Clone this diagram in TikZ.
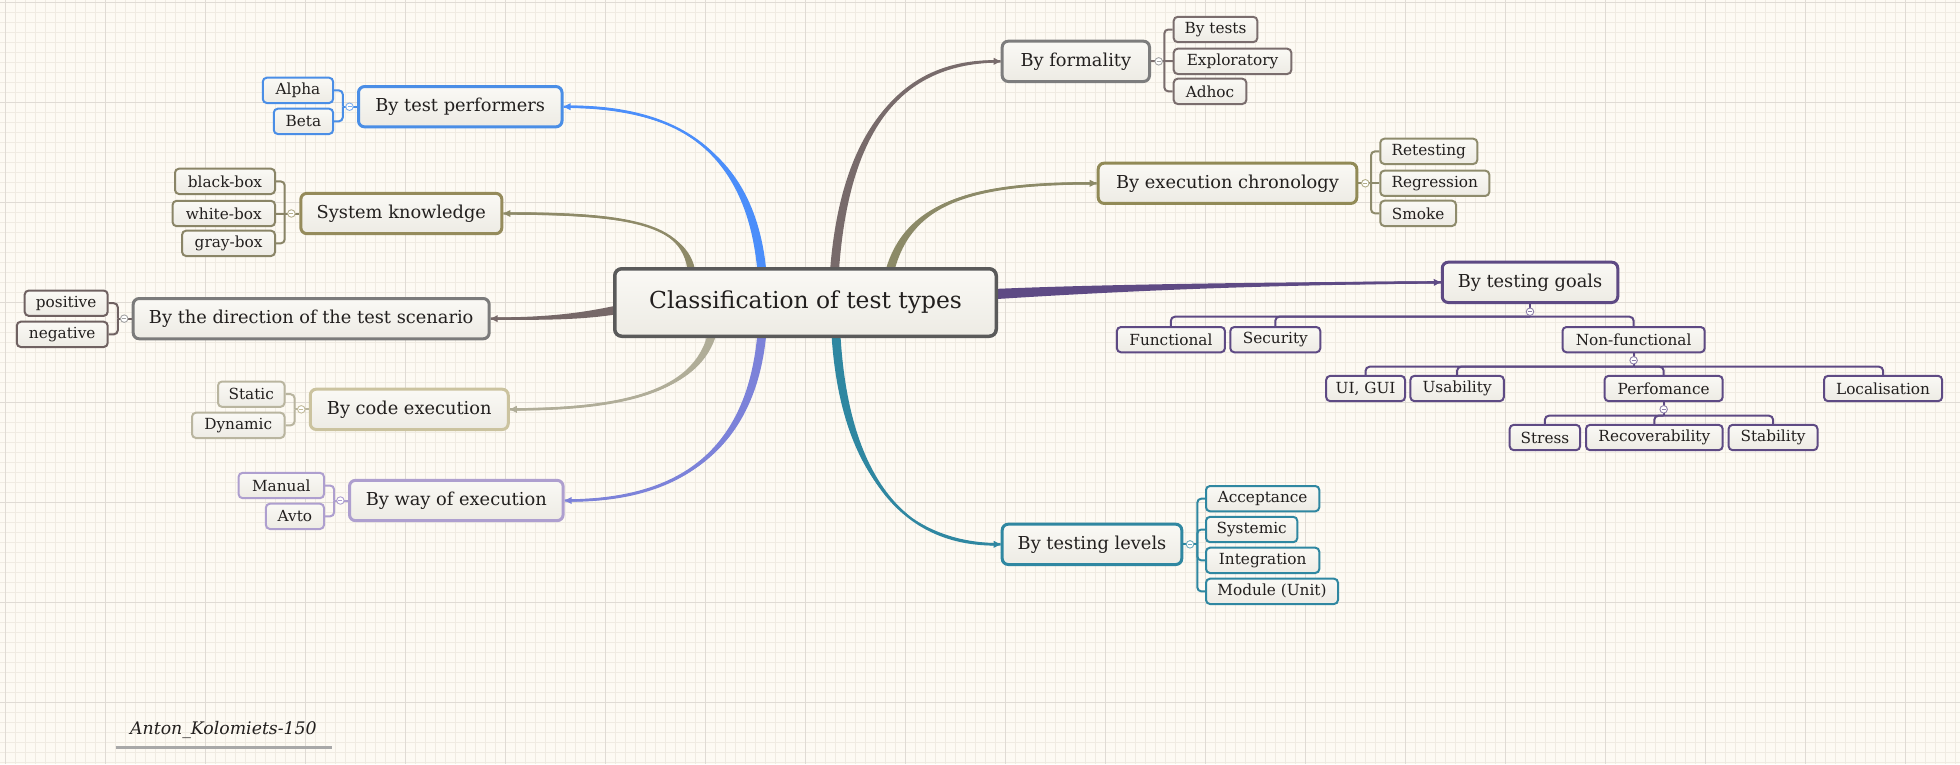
\documentclass[tikz,border=0pt]{standalone}
\usepackage{fontspec}
\setmainfont{DejaVu Serif}
\usetikzlibrary{calc,arrows.meta}
\pgfdeclarelayer{bgl}
\pgfdeclarelayer{connl}
\pgfsetlayers{bgl,connl,main}
\definecolor{bg}{HTML}{FDFAF3}
\definecolor{gmin}{HTML}{F0EBE2}
\definecolor{gmaj}{HTML}{E0DBD4}
\definecolor{boxtop}{HTML}{FAF9F5}
\definecolor{boxbot}{HTML}{EDEBE4}
\definecolor{txt}{HTML}{221F1E}
\definecolor{cC}{HTML}{5A5A5A}
\definecolor{cBlue}{HTML}{4A8EE6}
\definecolor{kBlue}{HTML}{4B8EFA}
\definecolor{cSK}{HTML}{958B5B}
\definecolor{cSKl}{HTML}{8A8567}
\definecolor{kSK}{HTML}{8E8A68}
\definecolor{cBD}{HTML}{7B7B7B}
\definecolor{cBDl}{HTML}{6F6161}
\definecolor{kBD}{HTML}{766868}
\definecolor{cCE}{HTML}{CBC39F}
\definecolor{cCEl}{HTML}{B9B59F}
\definecolor{kCE}{HTML}{B0AD98}
\definecolor{cWE}{HTML}{AE9FCF}
\definecolor{kWE}{HTML}{7C82D9}
\definecolor{cBF}{HTML}{7D7D7D}
\definecolor{cBFl}{HTML}{7A6D6D}
\definecolor{kBF}{HTML}{786B6B}
\definecolor{cEC}{HTML}{918A56}
\definecolor{cECl}{HTML}{8E8B6C}
\definecolor{kEC}{HTML}{8C8A67}
\definecolor{cTG}{HTML}{5E4A84}
\definecolor{cTL}{HTML}{2F87A1}
\definecolor{sigline}{HTML}{A8A8A8}
\newcommand\taper[7]{\fill[#7] ($#1+#5$) .. controls ($#2+#5$) and ($#3+#6$) .. ($#4+#6$) -- ($#4-#6$) .. controls ($#3-#6$) and ($#2-#5$) .. ($#1-#5$) -- cycle;}
\begin{document}
\begin{tikzpicture}[x=1pt,y=-1pt,
  box/.style={draw, top color=boxtop, bottom color=boxbot, inner sep=0pt, text=txt, align=center},
  central/.style={box, line width=3.5pt, rounded corners=7pt, draw=cC, minimum width=381.5pt, minimum height=67.5pt, font=\fontsize{23.4}{27}\selectfont},
  mainbox/.style={box, line width=3pt, rounded corners=6pt, minimum height=40.3pt, font=\fontsize{17.8}{21}\selectfont},
  leaf/.style={box, line width=2pt, rounded corners=4pt, minimum height=25.3pt, font=\fontsize{15.3}{18}\selectfont},
  br/.style={line width=2pt, rounded corners=4pt},
  conn/.style={line width=2.4pt, -{Triangle[length=7pt,width=6.5pt]}},
  circ/.style={circle, draw=#1, fill=white, line width=0.9pt, minimum size=7.5pt, inner sep=0pt,
    path picture={\draw[#1, line width=0.7pt] ([xshift=-2pt]path picture bounding box.center) -- ([xshift=2pt]path picture bounding box.center);}},
  minorg/.style={gmin, line width=1pt},
  majorg/.style={gmaj, line width=1pt}
]
\useasboundingbox (0,0) rectangle (1960,764);
\begin{pgfonlayer}{bgl}
\fill[bg] (0,0) rectangle (1960,764);
\foreach \i in {0,...,195} {\draw[minorg] ({5.3+10*\i},0) -- ({5.3+10*\i},764);}
\foreach \j in {0,...,76} {\draw[minorg] (0,{2.3+10*\j}) -- (1960,{2.3+10*\j});}
\foreach \i in {0,...,19} {\draw[majorg] ({5.3+100*\i},0) -- ({5.3+100*\i},764);}
\foreach \j in {0,...,7} {\draw[majorg] (0,{2.3+100*\j}) -- (1960,{2.3+100*\j});}
\end{pgfonlayer}

% central
\node[central] (C) at (805.5,302.5) {Classification of test types};

% main topics
\node[mainbox,draw=cBlue,minimum width=203.5pt] (btp) at (460.25,106.7) {By test performers};
\node[mainbox,draw=cSK,minimum width=201pt] (sk) at (401.35,213.5) {System knowledge};
\node[mainbox,draw=cBD,minimum width=356pt] (bd) at (311.2,318.65) {By the direction of the test scenario};
\node[mainbox,draw=cCE,minimum width=198pt] (bce) at (409.25,409.35) {By code execution};
\node[mainbox,draw=cWE,minimum width=213.6pt] (bwe) at (456.3,500.5) {By way of execution};
\node[mainbox,draw=cBF,minimum width=147.3pt] (bf) at (1075.85,61.35) {By formality};
\node[mainbox,draw=cEC,minimum width=258.6pt] (bec) at (1227.5,183.3) {By execution chronology};
\node[mainbox,draw=cTG,minimum width=175.5pt] (btg) at (1530,282.35) {By testing goals};
\node[mainbox,draw=cTL,minimum width=179.6pt] (btl) at (1092,544.35) {By testing levels};

% leaves
\node[leaf,draw=cBlue,minimum width=70.3pt] (alpha) at (297.95,90.35) {Alpha};
\node[leaf,draw=cBlue,minimum width=59.3pt] (beta) at (303.45,121.35) {Beta};
\node[leaf,draw=cSKl,minimum width=100pt] (blackb) at (225,181.35) {black-box};
\node[leaf,draw=cSKl,minimum width=102.4pt] (whiteb) at (223.8,213.5) {white-box};
\node[leaf,draw=cSKl,minimum width=92.9pt] (grayb) at (228.55,243.35) {gray-box};
\node[leaf,draw=cBDl,minimum width=83pt] (pos) at (66.2,303.2) {positive};
\node[leaf,draw=cBDl,minimum width=90.9pt] (neg) at (62.25,334.35) {negative};
\node[leaf,draw=cCEl,minimum width=66.5pt] (stat) at (251.25,394.2) {Static};
\node[leaf,draw=cCEl,minimum width=92.5pt] (dyn) at (238.25,425.35) {Dynamic};
\node[leaf,draw=cWE,minimum width=85.4pt] (man) at (281.3,485.5) {Manual};
\node[leaf,draw=cWE,minimum width=58.1pt] (avto) at (294.95,516.35) {Avto};
\node[leaf,draw=cBFl,minimum width=83.6pt] (bytests) at (1215.5,29.5) {By tests};
\node[leaf,draw=cBFl,minimum width=117.6pt] (explo) at (1232.5,61.35) {Exploratory};
\node[leaf,draw=cBFl,minimum width=72.6pt] (adhoc) at (1210,91.35) {Adhoc};
\node[leaf,draw=cECl,minimum width=97pt] (retest) at (1428.8,151.35) {Retesting};
\node[leaf,draw=cECl,minimum width=109pt] (regr) at (1434.8,183.3) {Regression};
\node[leaf,draw=cECl,minimum width=75.7pt] (smoke) at (1418.15,213.35) {Smoke};
\node[leaf,draw=cTG,minimum width=108pt] (func) at (1170.9,339.65) {Functional};
\node[leaf,draw=cTG,minimum width=90pt] (secur) at (1275.3,339.65) {Security};
\node[leaf,draw=cTG,minimum width=142.2pt] (nonf) at (1633.6,339.65) {Non-functional};
\node[leaf,draw=cTG,minimum width=78.8pt] (uigui) at (1365.6,388.5) {UI, GUI};
\node[leaf,draw=cTG,minimum width=93.4pt] (usab) at (1457.1,388.5) {Usability};
\node[leaf,draw=cTG,minimum width=118.1pt] (perf) at (1663.65,388.5) {Perfomance};
\node[leaf,draw=cTG,minimum width=118.1pt] (local) at (1883.05,388.5) {Localisation};
\node[leaf,draw=cTG,minimum width=70.4pt] (stress) at (1544.9,437.5) {Stress};
\node[leaf,draw=cTG,minimum width=136.7pt] (recov) at (1654.35,437.5) {Recoverability};
\node[leaf,draw=cTG,minimum width=88.9pt] (stab) at (1773.05,437.5) {Stability};
\node[leaf,draw=cTL,minimum width=113.3pt] (accept) at (1262.65,498.65) {Acceptance};
\node[leaf,draw=cTL,minimum width=91.3pt] (syst) at (1251.65,529.5) {Systemic};
\node[leaf,draw=cTL,minimum width=113.3pt] (integr) at (1262.65,560.35) {Integration};
\node[leaf,draw=cTL,minimum width=132pt] (module) at (1272,591.35) {Module (Unit)};

% junctions
\coordinate (btpj) at (342.8,106.7);
\coordinate (skj) at (284.7,213.5);
\coordinate (bdj) at (117.8,318.65);
\coordinate (bcej) at (294.6,409.35);
\coordinate (bwej) at (334.1,500.5);
\coordinate (bfj) at (1164.3,61.35);
\coordinate (becj) at (1371,183.3);
\coordinate (btlj) at (1197.3,544.35);
\coordinate (btgj) at (1530,316.7);
\coordinate (nfj) at (1633.6,366.7);
\coordinate (pfj) at (1663.65,415.7);

% connector start points inside the central node
\coordinate (s1) at (763,290);
\coordinate (s2) at (690,300);
\coordinate (s3) at (660,300);
\coordinate (s4) at (715,310);
\coordinate (s5) at (763,315);
\coordinate (s6) at (833,300);
\coordinate (s7) at (885,300);
\coordinate (s8) at (930,298);
\coordinate (s9) at (835,310);

\begin{pgfonlayer}{connl}
% tapered main connectors
\taper{(s1)}{(758,143)}{(666,106.7)}{(btp.east)}{(4.5,0)}{(0,1.2)}{kBlue}
\draw[conn,kBlue] (s1) .. controls (758,143) and (666,106.7) .. (btp.east);
\taper{(s2)}{(705,225)}{(640,213.5)}{(sk.east)}{(4.2,0.8)}{(0,1.2)}{kSK}
\draw[conn,kSK] (s2) .. controls (705,225) and (640,213.5) .. (sk.east);
\taper{(s3)}{(600,316)}{(560,318.65)}{(bd.east)}{(1.3,4.8)}{(0,1.2)}{kBD}
\draw[conn,kBD] (s3) .. controls (600,316) and (560,318.65) .. (bd.east);
\taper{(s4)}{(715,385)}{(640,409.35)}{(bce.east)}{(4.5,0)}{(0,1.2)}{kCE}
\draw[conn,kCE] (s4) .. controls (715,385) and (640,409.35) .. (bce.east);
\taper{(s5)}{(758,462)}{(666,500.5)}{(bwe.east)}{(4.5,0)}{(0,1.2)}{kWE}
\draw[conn,kWE] (s5) .. controls (758,462) and (666,500.5) .. (bwe.east);
\taper{(s6)}{(838,130)}{(900,61.35)}{(bf.west)}{(4.5,0)}{(0,1.2)}{kBF}
\draw[conn,kBF] (s6) .. controls (838,130) and (900,61.35) .. (bf.west);
\taper{(s7)}{(893,205)}{(960,183.3)}{(bec.west)}{(4.5,0.4)}{(0,1.2)}{kEC}
\draw[conn,kEC] (s7) .. controls (893,205) and (960,183.3) .. (bec.west);
\taper{(s8)}{(1030,291)}{(1200,284)}{(btg.west)}{(0.3,5.5)}{(0,1.2)}{cTG}
\draw[conn,cTG] (s8) .. controls (1030,291) and (1200,284) .. (btg.west);
\taper{(s9)}{(838,470)}{(900,544.35)}{(btl.west)}{(4.5,0)}{(0,1.2)}{cTL}
\draw[conn,cTL] (s9) .. controls (838,470) and (900,544.35) .. (btl.west);

% brackets
\draw[br,cBlue] (alpha.east) -| (btpj);
\draw[br,cBlue] (beta.east) -| (btpj);
\draw[br,cBlue] (btpj) -- (btp.west);
\draw[br,cSKl] (blackb.east) -| (skj);
\draw[br,cSKl] (grayb.east) -| (skj);
\draw[br,cSKl] (whiteb.east) -- (sk.west);
\draw[br,cBDl] (pos.east) -| (bdj);
\draw[br,cBDl] (neg.east) -| (bdj);
\draw[br,cBDl] (bdj) -- (bd.west);
\draw[br,cCEl] (stat.east) -| (bcej);
\draw[br,cCEl] (dyn.east) -| (bcej);
\draw[br,cCEl] (bcej) -- (bce.west);
\draw[br,cWE] (man.east) -| (bwej);
\draw[br,cWE] (avto.east) -| (bwej);
\draw[br,cWE] (bwej) -- (bwe.west);
\draw[br,cBFl] (bytests.west) -| (bfj);
\draw[br,cBFl] (adhoc.west) -| (bfj);
\draw[br,cBFl] (explo.west) -- (bf.east);
\draw[br,cECl] (retest.west) -| (becj);
\draw[br,cECl] (smoke.west) -| (becj);
\draw[br,cECl] (regr.west) -- (bec.east);
\draw[br,cTL] (accept.west) -| (btlj);
\draw[br,cTL] (syst.west) -| (btlj);
\draw[br,cTL] (integr.west) -| (btlj);
\draw[br,cTL] (module.west) -| (btlj);
\draw[br,cTL] (btlj) -- (btl.east);
\draw[br,cTG] (func.north) |- (btgj);
\draw[br,cTG] (secur.north) |- (btgj);
\draw[br,cTG] (nonf.north) |- (btgj);
\draw[br,cTG] (btgj) -- (btg.south);
\draw[br,cTG] (uigui.north) |- (nfj);
\draw[br,cTG] (usab.north) |- (nfj);
\draw[br,cTG] (perf.north) |- (nfj);
\draw[br,cTG] (local.north) |- (nfj);
\draw[br,cTG] (nfj) -- (nonf.south);
\draw[br,cTG] (stress.north) |- (pfj);
\draw[br,cTG] (recov.north) |- (pfj);
\draw[br,cTG] (stab.north) |- (pfj);
\draw[br,cTG] (pfj) -- (perf.south);
\end{pgfonlayer}

% collapse markers
\node[circ=cBlue!70!white] (btpc) at (349.5,106.7) {};
\node[circ=cSK!70!white] (skc) at (291.4,213.5) {};
\node[circ=cBD!70!white] (bdc) at (124.2,318.65) {};
\node[circ=cCE!90!gray] (bcec) at (301.3,409.35) {};
\node[circ=cWE] (bwec) at (340.4,500.5) {};
\node[circ=cBF!70!white] (bfc) at (1158.7,61.35) {};
\node[circ=cEC!70!white] (becc) at (1365.3,183.3) {};
\node[circ=cTL!70!white] (btlc) at (1190,544.35) {};
\node[circ=cTG!70!white] (btgc) at (1530,311.7) {};
\node[circ=cTG!70!white] (nfc) at (1633.6,360.3) {};
\node[circ=cTG!70!white] (pfc) at (1663.65,409.3) {};

% signature
\node[font=\itshape\fontsize{17.3}{20}\selectfont, text=txt, anchor=base west, inner sep=0pt] (sig) at (130,734) {Anton\_Kolomiets-150};
\draw[sigline, line width=2.7pt] (115.7,747.3) -- (332.3,747.3);
\end{tikzpicture}
\end{document}
